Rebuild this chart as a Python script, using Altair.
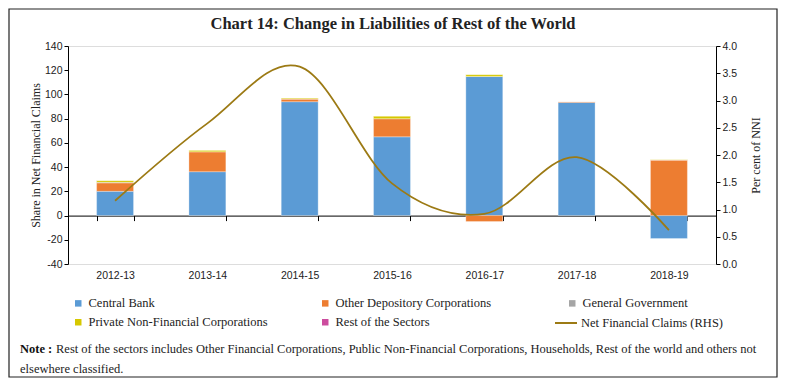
import altair as alt
import pandas as pd

years = ["2012-13", "2013-14", "2014-15", "2015-16", "2016-17", "2017-18", "2018-19"]
central_bank = [20.0, 36.2, 94.0, 65.0, 114.8, 93.4, -19.0]
other_depository = [7.0, 16.5, 2.2, 15.0, -4.9, 0.8, 45.8]
general_government = [0.5, 0.0, 0.0, 0.0, 0.0, 0.0, 0.0]
private_nfc = [1.5, 1.3, 0.8, 2.1, 1.6, 0.0, 0.5]
rest_of_sectors = [0.0, 0.0, 0.0, 0.0, 0.0, 0.0, 0.0]
net_financial_claims = [1.16, 2.58, 3.62, 1.48, 0.92, 1.96, 0.62]

sectors = ["Central Bank", "Other Depository Corporations", "General Government",
           "Private Non-Financial Corporations", "Rest of the Sectors"]
sector_colors = ["#5B9BD5", "#ED7D31", "#A5A5A5", "#D6C800", "#CC4C9E"]
line_name = "Net Financial Claims (RHS)"
line_color = "#9C7A14"
title_text = "Chart 14: Change in Liabilities of  Rest of the World"

rows = []
for si, (name, vals) in enumerate(zip(sectors, [central_bank, other_depository, general_government,
                                                 private_nfc, rest_of_sectors])):
    for y, v in zip(years, vals):
        rows.append({"year": y, "sector": name, "value": v, "ord": si})
bar_df = pd.DataFrame(rows)
line_df = pd.DataFrame({"year": years, "net": net_financial_claims, "series": line_name})

SERIF = "Liberation Serif"
SANS = "Liberation Sans"

bar_legend = alt.Legend(
    title=None, orient="none", legendX=4, legendY=251, columns=3, direction="horizontal",
    gridAlign="all", columnPadding=51, rowPadding=6, symbolType="square", symbolSize=42,
    symbolStrokeWidth=0, labelFont=SERIF, labelFontSize=12.5, labelColor="#222", labelOffset=4,
    labelLimit=400,
)
line_legend = alt.Legend(
    title=None, orient="none", legendX=486, legendY=265, symbolType="stroke", symbolSize=484,
    symbolStrokeWidth=2, labelFont=SERIF, labelFontSize=12.5, labelColor="#222", labelOffset=3,
    labelLimit=400,
)

x_enc = alt.X("year:N", sort=years, title=None,
              scale=alt.Scale(paddingInner=0.6, paddingOuter=0.31),
              axis=alt.Axis(orient="bottom", offset=-48.4, labelAngle=0, labelPadding=50,
                            tickBand="extent", tickSize=5, domainColor="black", tickColor="black",
                            labelFont=SANS, labelFontSize=10.5, labelColor="#222", grid=False))

bars = alt.Chart(bar_df).mark_bar(stroke="white", strokeWidth=0.6, strokeOpacity=0.5).encode(
    x=x_enc,
    y=alt.Y("value:Q", stack="zero", scale=alt.Scale(domain=[-40, 140], nice=False),
            axis=alt.Axis(orient="left", values=list(range(-40, 141, 20)), title="Share in Net Financial Claims",
                          labelExpr="datum.value < 0 ? '-' + abs(datum.value) : datum.label",
                          titleFont=SERIF, titleFontSize=12, titleFontWeight="normal", titleColor="#222",
                          titlePadding=2, labelFont=SANS, labelFontSize=10.5, labelColor="#222",
                          tickSize=4, labelPadding=2, domainColor="black", tickColor="black", grid=False)),
    color=alt.Color("sector:N", scale=alt.Scale(domain=sectors, range=sector_colors), legend=bar_legend),
    order=alt.Order("ord:Q"),
)

line = alt.Chart(line_df).mark_line(interpolate="cardinal", strokeWidth=1.8).encode(
    x=alt.X("year:N", sort=years),
    y=alt.Y("net:Q", scale=alt.Scale(domain=[0, 4], nice=False),
            axis=alt.Axis(orient="right", values=[0, 0.5, 1, 1.5, 2, 2.5, 3, 3.5, 4], format=".1f",
                          title="Per cent of NNI", titleFont=SERIF, titleFontSize=12, titleAngle=270,
                          titleFontWeight="normal", titleColor="#222", titlePadding=26,
                          labelFont=SANS, labelFontSize=10.5, labelColor="#222",
                          tickSize=4, labelPadding=2, domainColor="black", tickColor="black", grid=False)),
    color=alt.Color("series:N", scale=alt.Scale(domain=[line_name], range=[line_color]), legend=line_legend),
)

one = pd.DataFrame({"k": [0]})
title = alt.Chart(one).mark_text(font=SERIF, fontSize=16.5, fontWeight="bold", align="center",
                                 baseline="middle", color="#222").encode(
    x=alt.value(325), y=alt.value(-22), text=alt.value(title_text))
note_bold = alt.Chart(one).mark_text(font=SERIF, fontSize=12.5, fontWeight="bold", align="left",
                                     baseline="middle", color="#111").encode(
    x=alt.value(-48), y=alt.value(303), text=alt.value("Note :"))
note_rest = alt.Chart(one).mark_text(font=SERIF, fontSize=12.5, align="left",
                                     baseline="middle", color="#222").encode(
    x=alt.value(-12), y=alt.value(303),
    text=alt.value("Rest of the sectors includes Other Financial Corporations, Public Non-Financial "
                   "Corporations, Households, Rest of the world and others not"))
note_2 = alt.Chart(one).mark_text(font=SERIF, fontSize=12.5, align="left",
                                  baseline="middle", color="#222").encode(
    x=alt.value(-48), y=alt.value(323), text=alt.value("elsewhere classified."))
frame = alt.Chart(one).mark_rect(fillOpacity=0, stroke="#222", strokeWidth=1.2).encode(
    x=alt.value(-59), x2=alt.value(709), y=alt.value(-37), y2=alt.value(331))

chart = alt.layer(bars, line, title, note_bold, note_rest, note_2, frame).resolve_scale(
    y="independent", color="independent"
).resolve_legend(color="independent").properties(
    width=648, height=218,
    autosize=alt.AutoSizeParams(type="none"),
    padding={"left": 60, "top": 38, "right": 62, "bottom": 114},
).configure_view(stroke=None).configure(background="white")

chart.save("out.html", embed_options={"renderer": "svg", "actions": False})
